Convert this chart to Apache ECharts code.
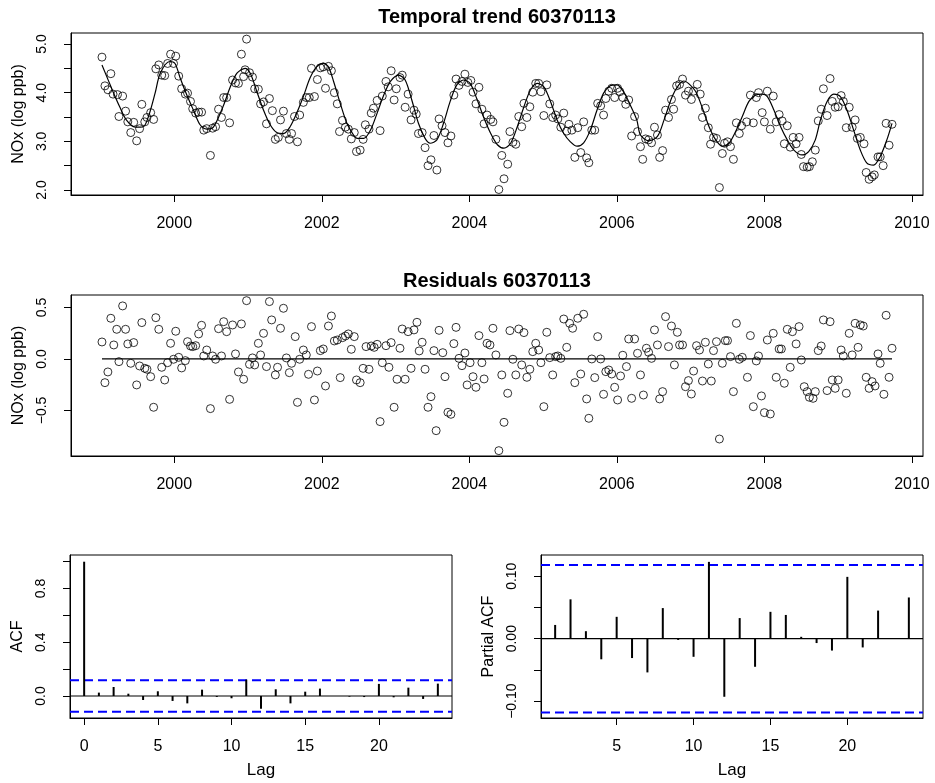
<!DOCTYPE html>
<html><head><meta charset="utf-8">
<script src="https://cdn.jsdelivr.net/npm/echarts@6/dist/echarts.min.js"></script>
<style>html,body{margin:0;padding:0;background:#fff}#c{width:935px;height:783px}</style>
</head><body><div id="c"></div>
<script>
// ---- Observed NOx (log ppb) ----
const obsYear = [1999.02,1999.06,1999.10,1999.14,1999.17,1999.23,1999.25,1999.30,1999.34,1999.37,1999.41,1999.45,1999.49,1999.53,1999.56,1999.60,1999.63,1999.68,1999.72,1999.75,1999.79,1999.83,1999.87,1999.91,1999.95,1999.99,
2000.02,2000.06,2000.10,2000.15,2000.18,2000.22,2000.25,2000.29,2000.33,2000.37,2000.40,2000.44,2000.49,2000.52,2000.56,2000.60,2000.64,2000.67,2000.71,2000.75,2000.79,2000.83,2000.87,2000.91,2000.94,2000.96,2000.98,
2001.02,2001.06,2001.09,2001.14,2001.17,2001.21,2001.25,2001.29,2001.33,2001.37,2001.41,2001.44,2001.48,2001.52,2001.56,2001.59,2001.63,2001.67,2001.70,2001.75,2001.79,2001.83,2001.86,2001.90,2001.94,2001.98,
2002.02,2002.05,2002.09,2002.13,2002.17,2002.21,2002.24,2002.28,2002.32,2002.36,2002.40,2002.44,2002.47,2002.52,2002.56,2002.59,2002.64,2002.67,2002.70,2002.75,2002.79,2002.82,2002.87,2002.90,2002.94,2002.98,
2003.01,2003.06,2003.09,2003.13,2003.17,2003.21,2003.25,2003.28,2003.31,2003.36,2003.40,2003.44,2003.48,2003.52,2003.56,2003.59,2003.63,2003.67,2003.71,2003.75,2003.79,2003.82,2003.86,2003.90,2003.94,2003.98,
2004.02,2004.05,2004.09,2004.13,2004.17,2004.20,2004.24,2004.29,2004.32,2004.36,2004.40,2004.44,2004.47,2004.52,2004.55,2004.59,2004.63,2004.67,2004.71,2004.74,2004.78,2004.82,2004.86,2004.90,2004.94,2004.97,
2005.01,2005.05,2005.09,2005.13,2005.17,2005.20,2005.24,2005.28,2005.32,2005.35,2005.39,2005.43,2005.47,2005.51,2005.55,2005.59,2005.62,2005.66,2005.70,2005.74,2005.78,2005.82,2005.85,2005.89,2005.93,2005.97,
2006.01,2006.04,2006.08,2006.12,2006.16,2006.20,2006.24,2006.28,2006.32,2006.35,2006.39,2006.43,2006.47,2006.51,2006.55,2006.58,2006.62,2006.66,2006.70,2006.74,2006.77,2006.81,2006.85,2006.89,2006.93,2006.97,
2007.01,2007.04,2007.09,2007.13,2007.16,2007.20,2007.24,2007.27,2007.31,2007.35,2007.39,2007.43,2007.46,2007.50,2007.54,2007.58,2007.62,2007.66,2007.69,2007.76,2007.81,2007.85,2007.89,2007.92,2007.97,
2008.00,2008.04,2008.08,2008.12,2008.16,2008.20,2008.24,2008.27,2008.31,2008.35,2008.39,2008.43,2008.47,2008.50,2008.53,2008.58,2008.61,2008.65,2008.69,2008.73,2008.77,2008.80,2008.85,2008.89,2008.92,2008.96,
2009.00,2009.04,2009.07,2009.11,2009.15,2009.19,2009.23,2009.26,2009.30,2009.35,2009.38,2009.42,2009.46,2009.49,2009.54,2009.57,2009.61,2009.65,2009.69,2009.73];
const obsNOx = [4.73,4.14,4.06,4.39,3.97,3.96,3.51,3.93,3.62,3.40,3.18,3.39,3.01,3.26,3.76,3.40,3.49,3.59,3.45,4.49,4.57,4.36,4.35,4.60,4.79,4.60,
4.75,4.34,4.08,3.97,3.99,3.82,3.67,3.58,3.60,3.60,3.23,3.26,2.71,3.27,3.30,3.66,3.49,3.90,3.90,3.38,4.26,4.20,4.19,4.79,4.33,4.47,5.10,
4.41,4.32,4.08,4.07,3.77,3.81,3.36,3.88,3.63,3.04,3.08,3.44,3.62,3.16,3.04,3.16,3.51,2.99,3.54,3.80,3.90,3.90,4.50,3.92,4.27,4.51,
4.53,4.09,4.54,4.45,4.00,3.77,3.20,3.43,3.29,3.25,3.05,3.18,2.79,2.82,3.04,3.34,3.25,3.58,3.68,3.84,3.22,3.93,4.23,4.12,4.45,3.85,
4.08,4.31,4.36,3.70,3.97,3.44,3.64,3.56,3.16,3.18,2.87,2.50,2.62,3.12,2.41,3.46,3.32,3.18,2.97,3.11,3.95,4.28,4.15,4.23,4.38,4.21,
4.25,4.01,3.77,4.11,3.66,3.36,3.54,3.45,3.40,3.04,2.01,2.71,2.23,2.53,3.20,2.98,2.94,3.51,3.30,3.78,3.49,3.71,4.01,4.19,4.19,4.02,
3.53,4.16,3.77,3.49,3.54,3.46,3.29,3.58,3.21,3.35,3.23,2.67,3.28,2.77,3.40,2.66,2.56,3.23,3.23,3.78,3.73,3.54,3.88,4.03,4.09,3.90,
4.09,4.02,3.90,3.76,3.85,3.11,3.51,3.20,2.89,2.63,3.05,3.03,2.97,3.29,3.13,2.67,2.81,3.64,3.49,3.86,3.66,4.14,4.17,4.28,3.95,4.03,
3.86,4.03,4.17,3.97,3.49,3.68,3.28,2.94,3.08,3.06,2.05,2.75,2.96,2.99,2.89,2.63,3.38,3.16,3.32,3.40,3.95,3.38,3.90,4.00,3.59,
3.40,4.03,3.25,3.93,3.40,3.55,3.42,2.95,3.32,2.88,3.08,2.95,3.08,2.73,2.48,2.47,2.48,2.58,2.82,3.42,3.66,4.08,3.53,4.29,3.82,3.70,
3.71,3.94,3.82,3.28,3.70,3.29,3.44,3.06,3.08,2.95,2.36,2.22,2.27,2.31,2.68,2.68,2.50,3.37,2.92,3.35];

// ---- Fitted temporal trend (line nodes) ----
const trendYear = [1999.02,1999.17,1999.26,1999.35,1999.47,1999.58,1999.65,1999.74,1999.81,1999.94,2000.01,2000.08,2000.17,2000.26,2000.35,2000.44,2000.53,2000.66,2000.76,2000.85,2000.96,
2001.03,2001.12,2001.21,2001.30,2001.39,2001.48,2001.57,2001.66,2001.75,2001.84,2001.93,2002.02,2002.09,2002.16,2002.25,2002.34,2002.43,2002.48,2002.57,2002.66,2002.75,2002.84,2002.93,
2003.04,2003.13,2003.22,2003.31,2003.40,2003.47,2003.56,2003.65,2003.74,2003.83,2003.92,2004.01,2004.10,2004.19,2004.29,2004.38,2004.47,2004.56,2004.65,2004.74,2004.83,2004.92,
2005.01,2005.10,2005.19,2005.28,2005.37,2005.46,2005.55,2005.64,2005.73,2005.82,2005.91,2006.00,2006.09,2006.18,2006.27,2006.32,2006.43,2006.55,2006.64,2006.75,2006.84,2006.91,2006.97,
2007.07,2007.16,2007.25,2007.34,2007.43,2007.52,2007.61,2007.70,2007.79,2007.88,2007.97,2008.04,2008.13,2008.22,2008.31,2008.40,2008.51,2008.60,2008.69,2008.76,2008.85,2008.94,
2009.03,2009.12,2009.21,2009.30,2009.39,2009.48,2009.57,2009.66,2009.73];
const trendNOx = [4.57,4.02,3.71,3.44,3.29,3.30,3.51,3.99,4.40,4.64,4.60,4.30,3.95,3.64,3.34,3.25,3.29,3.71,4.12,4.40,4.50,
4.40,4.02,3.64,3.34,3.18,3.16,3.30,3.58,3.92,4.30,4.53,4.60,4.53,4.23,3.78,3.37,3.13,3.06,3.06,3.23,3.58,3.95,4.23,
4.36,4.26,3.85,3.37,3.06,2.96,3.03,3.37,3.82,4.16,4.26,4.19,3.88,3.51,3.16,2.93,2.86,2.96,3.30,3.71,4.06,4.19,
4.12,3.82,3.44,3.16,2.99,2.90,2.97,3.23,3.64,3.99,4.14,4.16,4.02,3.75,3.44,3.13,3.01,3.10,3.44,3.92,4.16,4.24,4.19,
4.02,3.68,3.30,3.03,2.90,2.96,3.20,3.51,3.82,3.95,3.97,3.92,3.64,3.30,3.03,2.82,2.72,2.79,3.03,3.44,3.82,3.97,
3.92,3.64,3.23,2.82,2.55,2.51,2.69,3.03,3.37];

// ---- Residuals ----
const resYear = [1999.02,1999.06,1999.10,1999.14,1999.18,1999.22,1999.25,1999.30,1999.34,1999.37,1999.41,1999.45,1999.49,1999.53,1999.56,1999.60,1999.63,1999.68,1999.72,1999.75,1999.79,1999.83,1999.87,1999.91,1999.95,1999.99,
2000.02,2000.06,2000.10,2000.15,2000.18,2000.22,2000.25,2000.29,2000.33,2000.37,2000.40,2000.44,2000.49,2000.52,2000.56,2000.60,2000.64,2000.67,2000.71,2000.75,2000.79,2000.83,2000.87,2000.91,2000.94,2000.98,
2001.02,2001.06,2001.09,2001.14,2001.17,2001.21,2001.25,2001.29,2001.32,2001.37,2001.40,2001.44,2001.48,2001.52,2001.56,2001.59,2001.64,2001.67,2001.70,2001.75,2001.79,2001.82,2001.86,2001.90,2001.94,2001.98,
2002.02,2002.05,2002.09,2002.13,2002.17,2002.21,2002.25,2002.28,2002.32,2002.36,2002.40,2002.44,2002.47,2002.52,2002.56,2002.60,2002.64,2002.67,2002.71,2002.75,2002.79,2002.82,2002.87,2002.91,2002.94,2002.98,
2003.02,2003.06,2003.09,2003.13,2003.17,2003.21,2003.25,2003.29,2003.32,2003.36,2003.40,2003.44,2003.48,2003.52,2003.55,2003.59,2003.64,2003.67,2003.71,2003.75,2003.79,2003.82,2003.86,2003.90,2003.94,2003.97,
2004.01,2004.05,2004.09,2004.13,2004.17,2004.20,2004.24,2004.28,2004.32,2004.36,2004.40,2004.44,2004.47,2004.52,2004.55,2004.59,2004.63,2004.67,2004.71,2004.74,2004.78,2004.82,2004.86,2004.90,2004.94,2004.97,
2005.01,2005.05,2005.09,2005.13,2005.17,2005.20,2005.24,2005.28,2005.32,2005.36,2005.40,2005.43,2005.47,2005.51,2005.55,2005.59,2005.62,2005.66,2005.70,2005.74,2005.78,2005.82,2005.85,2005.89,2005.93,2005.97,
2006.01,2006.05,2006.08,2006.13,2006.16,2006.20,2006.24,2006.28,2006.32,2006.36,2006.40,2006.43,2006.47,2006.51,2006.55,2006.58,2006.62,2006.66,2006.70,2006.74,2006.78,2006.82,2006.85,2006.89,2006.93,2006.97,
2007.01,2007.04,2007.08,2007.12,2007.16,2007.20,2007.24,2007.28,2007.31,2007.35,2007.39,2007.43,2007.47,2007.50,2007.54,2007.58,2007.62,2007.66,2007.70,2007.77,2007.81,2007.85,2007.89,2007.92,2007.96,
2008.00,2008.04,2008.08,2008.12,2008.16,2008.20,2008.23,2008.27,2008.31,2008.35,2008.38,2008.43,2008.47,2008.50,2008.54,2008.58,2008.61,2008.66,2008.69,2008.73,2008.77,2008.80,2008.85,2008.89,2008.92,2008.96,
2009.00,2009.04,2009.07,2009.11,2009.15,2009.19,2009.23,2009.27,2009.30,2009.34,2009.38,2009.42,2009.46,2009.50,2009.54,2009.57,2009.62,2009.65,2009.69,2009.73];
const resVal = [0.165,-0.230,-0.126,0.395,0.136,0.288,-0.026,0.515,0.288,0.146,-0.042,0.159,-0.252,-0.068,0.353,-0.091,-0.100,-0.172,-0.469,0.401,0.288,-0.081,-0.204,-0.036,0.152,-0.003,
0.269,0.016,-0.087,-0.016,0.168,0.126,0.120,0.129,0.243,0.327,0.029,0.087,-0.482,0.029,-0.003,0.294,0.029,0.362,0.265,-0.392,0.330,0.049,-0.126,0.340,-0.197,0.566,
-0.052,0.010,-0.058,0.152,0.039,0.249,-0.074,0.557,0.379,-0.155,-0.081,0.298,0.492,0.010,-0.133,-0.042,0.217,-0.421,-0.003,0.087,0.039,-0.149,0.314,-0.398,-0.117,0.081,
0.097,-0.262,0.320,0.417,0.175,0.184,-0.181,0.207,0.223,0.243,0.094,0.217,-0.204,-0.230,-0.091,0.120,-0.100,0.126,0.113,0.142,-0.608,-0.036,0.129,-0.081,0.159,-0.469,
-0.197,0.104,0.291,-0.197,0.265,-0.091,0.282,0.356,0.078,0.162,-0.100,-0.469,-0.366,0.081,-0.696,0.278,0.061,-0.172,-0.518,-0.537,0.149,0.307,0.006,-0.065,0.058,-0.252,
-0.036,-0.172,-0.275,0.227,-0.036,-0.194,0.152,0.136,0.298,0.039,-0.890,-0.155,-0.615,-0.333,0.275,-0.003,-0.155,0.291,-0.058,0.256,-0.178,-0.100,0.071,0.152,0.087,-0.036,
-0.463,0.259,0.013,-0.155,0.023,0.029,0.006,0.388,0.113,0.346,0.298,-0.230,0.395,-0.146,0.434,-0.388,-0.576,0.000,-0.181,0.217,0.000,-0.343,-0.123,-0.107,-0.146,-0.275,
-0.398,-0.165,0.036,-0.074,0.194,-0.382,0.194,0.055,-0.155,-0.350,0.104,0.065,0.006,0.282,0.136,-0.388,-0.317,0.411,0.120,0.320,-0.058,0.259,0.136,0.136,-0.269,-0.210,
-0.340,-0.117,0.129,0.087,-0.214,0.162,-0.049,-0.214,0.081,0.168,-0.777,-0.042,0.178,0.178,0.023,-0.317,0.346,-0.003,0.016,-0.178,0.227,-0.463,-0.019,0.029,-0.359,
-0.521,0.184,-0.534,0.249,-0.178,0.097,0.097,-0.236,0.288,-0.081,0.265,0.146,0.314,-0.010,-0.269,-0.317,-0.372,-0.382,-0.317,0.081,0.126,0.379,-0.307,0.362,-0.204,-0.285,
-0.204,0.087,0.029,-0.333,0.249,0.039,0.346,0.113,0.330,0.320,-0.178,-0.285,-0.220,-0.262,0.049,-0.042,-0.343,0.424,-0.178,0.104];

// ---- ACF / PACF of residuals ----
const acfLag = [0,1,2,3,4,5,6,7,8,9,10,11,12,13,14,15,16,17,18,19,20,21,22,23,24];
const acfVal = [1.0,0.025,0.067,0.017,-0.030,0.035,-0.037,-0.055,0.047,-0.007,-0.017,0.122,-0.095,0.050,-0.055,0.032,0.055,0.000,-0.005,-0.008,0.090,-0.010,0.062,-0.022,0.092];
const pacfLag = [1,2,3,4,5,6,7,8,9,10,11,12,13,14,15,16,17,18,19,20,21,22,23,24];
const pacfVal = [0.022,0.063,0.012,-0.033,0.035,-0.031,-0.054,0.049,-0.002,-0.029,0.123,-0.093,0.033,-0.045,0.043,0.038,0.003,-0.007,-0.019,0.099,-0.014,0.045,0.000,0.066];
const acfBound = 0.117;
const pacfBound = 0.118;

// ---- axis ranges, tick values / labels ----
const yearRange = [1998.60, 2010.15];
const acfLagRange = [-0.96, 24.96];
const pacfLagRange = [0.08, 24.92];
const yearTicks = [2000,2002,2004,2006,2008,2010];
const trendTicks = [2.0,2.5,3.0,3.5,4.0,4.5,5.0];
const trendLabels = [2.0,3.0,4.0,5.0];
const resTicks = [-0.5,0.0,0.5];
const acfTicks = [0.0,0.2,0.4,0.6,0.8,1.0];
const acfLabels = [0.0,0.4,0.8];
const pacfTicks = [-0.10,-0.05,0.00,0.05,0.10];
const pacfLabels = [-0.10,0.00,0.10];
const acfLagTicks = [0,5,10,15,20];
const pacfLagTicks = [5,10,15,20];

const FONT = "'Liberation Sans', Arial, Helvetica, sans-serif";
const fmt = d => v => (v < 0 ? '\u2212' : '') + Math.abs(v).toFixed(d);

function xAx(gi, range, ticks, labels, f, name) {
  return {
    type: 'value', gridIndex: gi, min: range[0], max: range[1],
    splitLine: { show: false },
    axisLine: { show: true, onZero: false, lineStyle: { color: '#000', width: 1 } },
    axisTick: { show: true, inside: false, length: 7, customValues: ticks, lineStyle: { color: '#000', width: 1 } },
    axisLabel: { customValues: labels, formatter: f, color: '#000', fontSize: 16, fontFamily: FONT, margin: 21 },
    name: name || '', nameLocation: 'middle', nameGap: 44,
    nameTextStyle: { color: '#000', fontSize: 17, fontFamily: FONT }
  };
}
function yAx(gi, min, max, ticks, labels, f, name) {
  return {
    type: 'value', gridIndex: gi, min, max,
    splitLine: { show: false },
    axisLine: { show: true, onZero: false, lineStyle: { color: '#000', width: 1 } },
    axisTick: { show: true, inside: false, length: 7, customValues: ticks, lineStyle: { color: '#000', width: 1 } },
    axisLabel: { customValues: labels, formatter: f, color: '#000', fontSize: 14, fontFamily: FONT, margin: 22, rotate: 90 },
    name, nameLocation: 'middle', nameGap: 44, nameRotate: 90,
    nameTextStyle: { color: '#000', fontSize: 16, fontFamily: FONT }
  };
}
const gridBase = { show: true, borderColor: '#000', borderWidth: 1, backgroundColor: 'transparent', containLabel: false };

const chart = echarts.init(document.getElementById('c'), null, { renderer: 'canvas' });
const yearFmt = v => String(v);
const circle = { symbol: 'circle', symbolSize: 8, itemStyle: { color: 'rgba(0,0,0,0)', borderColor: '#000', borderWidth: 1 } };

function hLine(ax, range, y, color, dashed) {
  return { type: 'line', xAxisIndex: ax, yAxisIndex: ax, data: [[range[0], y], [range[1], y]],
    showSymbol: false, symbol: 'none', silent: true, z: 1,
    itemStyle: { color },
    lineStyle: { color, width: dashed ? 2 : 1.2, type: dashed ? [9, 5] : 'solid' } };
}

chart.setOption({
  animation: false,
  backgroundColor: '#fff',
  textStyle: { fontFamily: FONT },
  graphic: [
    { type: 'text', x: 497, y: 17, style: { text: 'Temporal trend 60370113', font: "bold 20px " + FONT, fill: '#000', textAlign: 'center', textVerticalAlign: 'middle' } },
    { type: 'text', x: 497, y: 281, style: { text: 'Residuals 60370113', font: "bold 20px " + FONT, fill: '#000', textAlign: 'center', textVerticalAlign: 'middle' } }
  ],
  grid: [
    Object.assign({ left: 71, top: 33, width: 852, height: 162 }, gridBase),
    Object.assign({ left: 71, top: 295, width: 852, height: 161 }, gridBase),
    Object.assign({ left: 70, top: 555, width: 382, height: 163 }, gridBase),
    Object.assign({ left: 541, top: 555, width: 382, height: 163 }, gridBase)
  ],
  xAxis: [
    xAx(0, yearRange, yearTicks, yearTicks, yearFmt),
    xAx(1, yearRange, yearTicks, yearTicks, yearFmt),
    xAx(2, acfLagRange, acfLagTicks, acfLagTicks, yearFmt, 'Lag'),
    xAx(3, pacfLagRange, pacfLagTicks, pacfLagTicks, yearFmt, 'Lag')
  ],
  yAxis: [
    yAx(0, 1.897, 5.226, trendTicks, trendLabels, fmt(1), 'NOx (log ppb)'),
    yAx(1, -0.942, 0.621, resTicks, resTicks, fmt(1), 'NOx (log ppb)'),
    yAx(2, -0.164, 1.05, acfTicks, acfLabels, fmt(1), 'ACF'),
    yAx(3, -0.127, 0.134, pacfTicks, pacfLabels, fmt(2), 'Partial ACF')
  ],
  series: [
    Object.assign({ type: 'scatter', xAxisIndex: 0, yAxisIndex: 0, data: obsYear.map((t, i) => [t, obsNOx[i]]), z: 3 }, circle),
    { type: 'line', xAxisIndex: 0, yAxisIndex: 0, data: trendYear.map((t, i) => [t, trendNOx[i]]), smooth: 0.3, showSymbol: false, symbol: 'none', lineStyle: { color: '#000', width: 1.2 }, z: 2 },
    Object.assign({ type: 'scatter', xAxisIndex: 1, yAxisIndex: 1, data: resYear.map((t, i) => [t, resVal[i]]), z: 3 }, circle),
    { type: 'line', xAxisIndex: 1, yAxisIndex: 1, data: [[resYear[0], 0], [resYear[resYear.length - 1], 0]], showSymbol: false, symbol: 'none', lineStyle: { color: '#000', width: 1.2 }, z: 2 },
    { type: 'bar', xAxisIndex: 2, yAxisIndex: 2, data: acfLag.map((l, i) => [l, acfVal[i]]), barWidth: 2, itemStyle: { color: '#000' }, z: 2 },
    hLine(2, acfLagRange, 0, '#000', false),
    hLine(2, acfLagRange, acfBound, '#0000ff', true),
    hLine(2, acfLagRange, -acfBound, '#0000ff', true),
    { type: 'bar', xAxisIndex: 3, yAxisIndex: 3, data: pacfLag.map((l, i) => [l, pacfVal[i]]), barWidth: 2, itemStyle: { color: '#000' }, z: 2 },
    hLine(3, pacfLagRange, 0, '#000', false),
    hLine(3, pacfLagRange, pacfBound, '#0000ff', true),
    hLine(3, pacfLagRange, -pacfBound, '#0000ff', true)
  ]
});
</script>
</body></html>
